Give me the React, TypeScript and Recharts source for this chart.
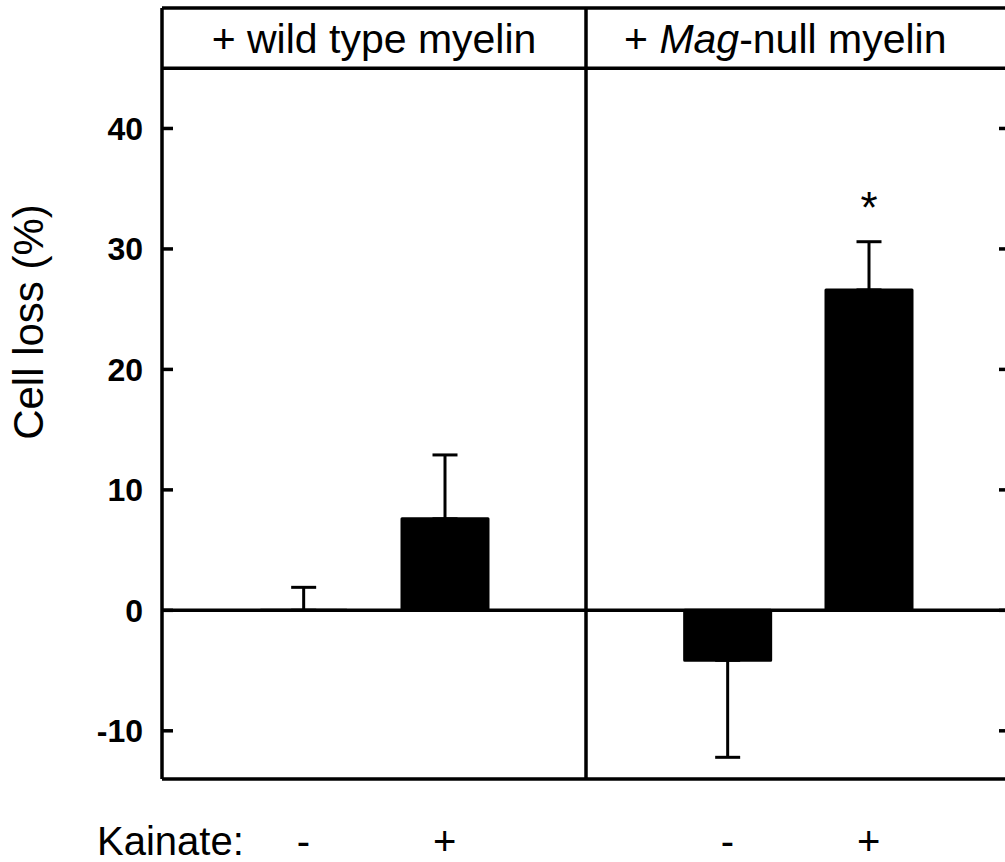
import React from 'react';
import { ComposedChart, Bar, XAxis, YAxis, ErrorBar, ReferenceLine, LabelList, Label } from 'recharts';

// ---- data ----
const conditions = ['wild type myelin, Kainate -', 'wild type myelin, Kainate +', 'Mag-null myelin, Kainate -', 'Mag-null myelin, Kainate +'];
const slots = [1, 2, 4, 5];
const kainate = ['-', '+', '-', '+'];
const cellLoss = [0.01, 7.6, -4.15, 26.6];
const errLow = [0, 0, 8.05, 0];
const errHigh = [1.9, 5.3, 0, 4.0];
const significance = ['', '', '', '*'];
const yTicks = [-10, 0, 10, 20, 30, 40];
const yDomain = [-14, 50];
const xDomain = [0, 6];
const panelCenters = [1.5, 4.41];
const panelLabels: [string, boolean][][] = [
  [['+ wild type myelin', false]],
  [['+ ', false], ['Mag', true], ['-null myelin', false]],
];
const dividerSlot = 3;
const headerBase = 45;

const FONT = '"Liberation Sans", Arial, Helvetica, sans-serif';
const Y_TICK_MARGIN = 19;
const TICK_LEN = 11;
const LINE_W = 3.5;

const LeftTick = (props: any) => {
  const { x, y, payload } = props;
  return (
    <g>
      <line x1={x + Y_TICK_MARGIN} x2={x + Y_TICK_MARGIN + TICK_LEN} y1={y} y2={y} stroke="#000" strokeWidth={LINE_W} />
      <text x={x} y={y} dy="0.355em" textAnchor="end" fontFamily={FONT} fontWeight="bold" fontSize={32} fill="#000">
        {payload.value}
      </text>
    </g>
  );
};

const RightTick = (props: any) => {
  const { x, y } = props;
  return <line x1={x - TICK_LEN} x2={x} y1={y} y2={y} stroke="#000" strokeWidth={LINE_W} />;
};

const TopTick = (props: any) => {
  const { x, y, payload } = props;
  const idx = panelCenters.indexOf(payload.value);
  const parts = panelLabels[idx] || [];
  return (
    <text x={x} y={y + 45} textAnchor="middle" fontFamily={FONT} fontSize={41} fill="#000">
      {parts.map(([t, it], i) => (
        <tspan key={i} fontStyle={it ? 'italic' : 'normal'}>{t}</tspan>
      ))}
    </text>
  );
};

const BottomTick = (props: any) => {
  const { x, y, payload } = props;
  const idx = slots.indexOf(payload.value);
  return (
    <text x={x} y={y} dy="0.71em" textAnchor="middle" fontFamily={FONT} fontSize={40} fill="#000">
      {kainate[idx]}
    </text>
  );
};

const KainateLabel = (props: any) => {
  const vb = props.viewBox || { x: 0, y: 0 };
  return (
    <text x={vb.x - 65} y={vb.y + 76} textAnchor="start" fontFamily={FONT} fontSize={40} fill="#000">
      Kainate:
    </text>
  );
};

const YLabel = (props: any) => {
  const vb = props.viewBox || { x: 0, y: 0 };
  const x = vb.x - 19;
  const y = vb.y + 314;
  return (
    <text x={x} y={y} transform={`rotate(-90, ${x}, ${y})`} textAnchor="middle" fontFamily={FONT} fontSize={42} fill="#000">
      Cell loss (%)
    </text>
  );
};

const axisStroke = { stroke: '#000', strokeWidth: LINE_W };

export default function App() {
  const data = slots.map((s, i) => ({
    slot: s,
    name: conditions[i],
    value: cellLoss[i],
    err: [errLow[i], errHigh[i]],
    sig: significance[i],
  }));
  return (
    <div style={{ position: 'absolute', left: 0, top: 0, width: 1005, height: 862, overflow: 'hidden', background: '#fff' }}>
      <ComposedChart width={1020} height={862} data={data} margin={{ top: 0, right: 0, bottom: 0, left: 62 }}>
        <XAxis
          dataKey="slot"
          type="number"
          domain={xDomain}
          allowDataOverflow
          ticks={slots}
          interval={0}
          height={83}
          tickLine={false}
          tickSize={0}
          tickMargin={48}
          axisLine={axisStroke}
          tick={<BottomTick />}
        >
          <Label content={<KainateLabel />} />
        </XAxis>
        <XAxis
          xAxisId="top"
          dataKey="slot"
          orientation="top"
          type="number"
          domain={xDomain}
          allowDataOverflow
          ticks={panelCenters}
          interval={0}
          height={8}
          tickLine={false}
          tickSize={0}
          tickMargin={0}
          axisLine={axisStroke}
          tick={<TopTick />}
        />
        <YAxis
          type="number"
          domain={yDomain}
          allowDataOverflow
          ticks={yTicks}
          interval={0}
          width={100}
          tickLine={false}
          tickSize={0}
          tickMargin={Y_TICK_MARGIN}
          axisLine={axisStroke}
          tick={<LeftTick />}
        >
          <Label content={<YLabel />} />
        </YAxis>
        <YAxis
          yAxisId="r"
          orientation="right"
          type="number"
          domain={yDomain}
          allowDataOverflow
          ticks={yTicks}
          interval={0}
          width={10}
          axisLine={false}
          tickLine={false}
          tickSize={0}
          tickMargin={0}
          tick={<RightTick />}
        />
        <ReferenceLine y={headerBase} stroke="#000" strokeWidth={LINE_W} />
        <ReferenceLine y={0} stroke="#000" strokeWidth={LINE_W} />
        <ReferenceLine x={dividerSlot} stroke="#000" strokeWidth={LINE_W} />
        <Bar dataKey="value" fill="#000" stroke="#000" strokeWidth={3} strokeLinejoin="round" barSize={86} isAnimationActive={false}>
          <ErrorBar dataKey="err" direction="y" width={12.5} strokeWidth={3} stroke="#000" />
          <LabelList dataKey="sig" position="top" offset={67} fill="#000" fontSize={44} fontFamily={FONT} />
        </Bar>
      </ComposedChart>
    </div>
  );
}
